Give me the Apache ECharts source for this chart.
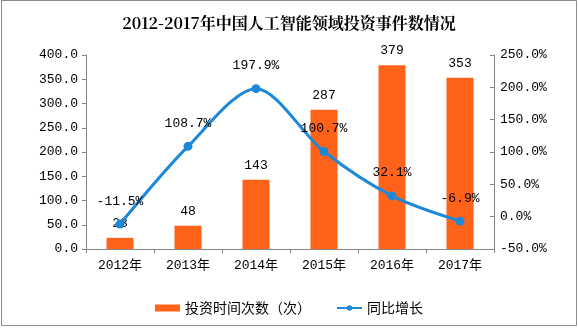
<!DOCTYPE html>
<html><head><meta charset="utf-8">
<script src="https://cdn.jsdelivr.net/npm/echarts@6/dist/echarts.min.js"></script>
<style>html,body{margin:0;padding:0;background:#fff}#c{width:578px;height:328px}</style>
</head><body><div id="c"></div>
<script>
var categories = ['2012年','2013年','2014年','2015年','2016年','2017年'];
var barValues = [23, 48, 143, 287, 379, 353];
var growthValues = [-11.5, 108.7, 197.9, 100.7, 32.1, -6.9];
var barName = '投资时间次数（次）';
var lineName = '同比增长';
var titleText = '2012-2017年中国人工智能领域投资事件数情况';

var mono = '"Liberation Mono", "Noto Sans CJK SC", monospace';
var cjk = '"Noto Sans CJK SC", sans-serif';
var axisColor = '#868686';
var chart = echarts.init(document.getElementById('c'), null, {renderer:'canvas'});
chart.setOption({
  animation: false,
  backgroundColor: '#fff',
  title: {text: titleText, left: 'center', top: 10,
    textStyle: {fontFamily: '"Noto Serif CJK SC","Noto Sans CJK SC", serif', fontSize: 16, fontWeight: 'bold', color: '#000'}},
  graphic: [{type: 'rect', shape: {x: 1.5, y: 0.5, width: 575, height: 325}, style: {fill: 'none', stroke: '#8c8c8c', lineWidth: 1}, silent: true}],
  legend: {bottom: 8, left: 'center', itemGap: 25, itemWidth: 25, itemHeight: 7,
    textStyle: {fontFamily: cjk, fontSize: 14, color: '#000'},
    data: [{name: barName, icon: 'rect'}, {name: lineName}]},
  grid: {left: 86, right: 84, top: 55, bottom: 79},
  xAxis: {type: 'category', data: categories,
    axisLine: {lineStyle: {color: axisColor}},
    axisTick: {show: true, alignWithLabel: false, length: 4, lineStyle: {color: axisColor}},
    axisLabel: {fontFamily: mono, fontSize: 13, color: '#000', margin: 10}},
  yAxis: [
    {type: 'value', min: 0, max: 400, interval: 50, splitLine: {show: false},
     axisLine: {show: true, lineStyle: {color: axisColor}},
     axisTick: {show: true, length: 4, lineStyle: {color: axisColor}},
     axisLabel: {fontFamily: mono, fontSize: 13, color: '#000', margin: 8,
       formatter: function(v){return v.toFixed(1);}}},
    {type: 'value', min: -50, max: 250, interval: 50, splitLine: {show: false},
     axisLine: {show: true, lineStyle: {color: axisColor}},
     axisTick: {show: true, inside: true, length: 4, lineStyle: {color: axisColor}},
     axisLabel: {fontFamily: mono, fontSize: 13, color: '#000', margin: 6,
       formatter: function(v){return v.toFixed(1) + '%';}}}
  ],
  series: [
    {name: barName, type: 'bar', data: barValues, barWidth: 27, yAxisIndex: 0,
     itemStyle: {color: '#ff6319'},
     label: {show: true, position: 'top', distance: 8, fontFamily: mono, fontSize: 13, color: '#000'}},
    {name: lineName, type: 'line', data: growthValues, yAxisIndex: 1, smooth: 0.3,
     symbol: 'circle', symbolSize: 9,
     lineStyle: {color: '#1e88d8', width: 3}, itemStyle: {color: '#1e88d8'},
     label: {show: true, position: 'top', distance: 12, fontFamily: mono, fontSize: 13, color: '#000',
       formatter: function(p){return p.value.toFixed(1) + '%';}}}
  ]
});
</script></body></html>
